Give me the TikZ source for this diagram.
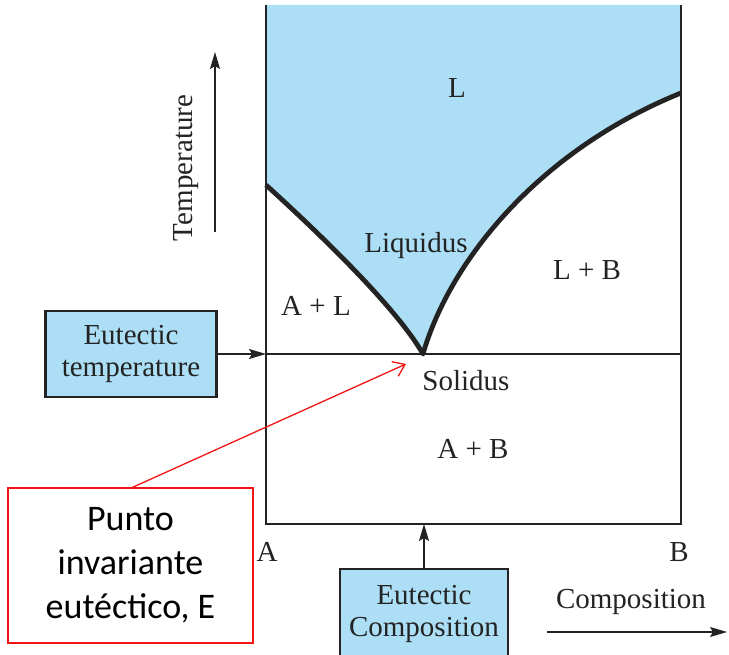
\documentclass[tikz,border=0pt]{standalone}
\usepackage{fontspec}
\setmainfont{Liberation Serif}
\newfontfamily\calibri{Carlito}
\usetikzlibrary{arrows.meta, positioning}
\definecolor{liqblue}{RGB}{172, 222, 246}
\definecolor{inkgray}{RGB}{35, 35, 35}
\definecolor{callred}{RGB}{240, 20, 20}

\tikzset{
  label text/.style={font=\fontsize{29}{32}\selectfont, text=inkgray, inner sep=0pt},
  note box/.style={draw=inkgray, line width=2.2pt, fill=liqblue, align=center,
    font=\fontsize{29}{32}\selectfont, text=inkgray, inner sep=0pt},
  axis arrow/.style={-{Stealth[length=17pt, width=10pt, inset=3pt]}, line width=1.3pt, inkgray},
}

\begin{document}
\begin{tikzpicture}[x=1pt, y=-1pt]
  \useasboundingbox (0,0) rectangle (729,655);

  % liquid region
  \coordinate (E) at (423,354);
  \fill[liqblue] (266,5) -- (681,5) -- (681,93)
    .. controls (540,150) and (450,260) .. (E)
    .. controls (395,305) and (310,225) .. (266,185) -- cycle;

  % frame and solidus
  \draw[line width=2.2pt, inkgray] (266,5) -- (266,524) -- (681,524) -- (681,5);
  \draw[line width=2.2pt, inkgray] (266,354) coordinate (solL) -- (681,354);
  \draw[line width=4.8pt, inkgray, line join=round]
    (266,185) .. controls (310,225) and (395,305) .. (E)
    .. controls (450,260) and (540,150) .. (681,93);

  % phase labels
  \node[label text] (L)   at (457,88)  {L};
  \node[label text] (liq) at (416,246) {Liquidus};
  \node[label text] (LB)  at (587,270) {L + B};
  \node[label text] (AL)  at (316,306) {A + L};
  \node[label text] (sol) at (466,381) {Solidus};
  \node[label text] (AB)  at (473,449) {A + B};
  \node[label text] (A)   at (267,552) {A};
  \node[label text] (B)   at (679,552) {B};

  % temperature axis
  \coordinate (tlow) at (215,232);
  \coordinate (thigh) at (215,52);
  \draw[axis arrow, line width=1.1pt] (tlow) -- (thigh);
  \node[label text, rotate=90] (temp) at (186,168) {Temperature};

  % composition axis
  \coordinate (cleft) at (547,632);
  \coordinate (cright) at (727,632);
  \draw[axis arrow, line width=1.1pt] (cleft) -- (cright);
  \node[label text] (comp) at (631,602) {Composition};

  % eutectic boxes
  \node[note box, minimum width=171pt, minimum height=86pt] (eutemp) at (131,354)
    {Eutectic\\temperature};
  \draw[axis arrow] (eutemp.east) -- (solL);

  \node[note box, minimum width=168pt, minimum height=100pt, anchor=north] (eucomp)
    at (424,568) {};
  \node[label text, align=center] (eucomptext) at (424,614) {Eutectic\\Composition};
  \coordinate (ctop) at (424,524);
  \draw[axis arrow] (eucomp.north) -- (ctop);

  % callout
  \node[draw=callred, line width=1.3pt, fill=white, minimum width=245pt,
    minimum height=155pt, align=center, inner sep=0pt,
    font=\calibri\fontsize{36}{44}\selectfont] (punto) at (130.5,565.5)
    {Punto\\invariante\\eutéctico, E};
  \coordinate (ptip) at (406,364);
  \draw[callred, line width=1.3pt, -{Straight Barb[length=11pt, width=16pt]}]
    ([xshift=2pt]punto.north) -- (ptip);
\end{tikzpicture}
\end{document}
